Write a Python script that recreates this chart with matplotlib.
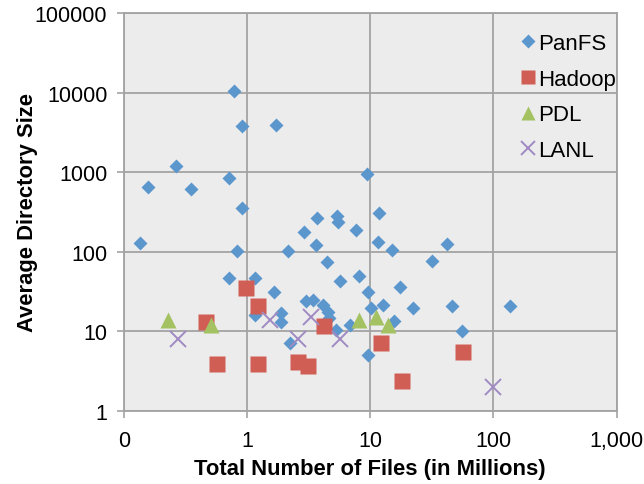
import matplotlib
matplotlib.use("Agg")
import matplotlib.pyplot as plt
from matplotlib.ticker import FixedLocator, FixedFormatter, NullLocator

plt.rcParams['font.family'] = ['Liberation Sans', 'DejaVu Sans']

# Total files (millions) and average directory size per file system site
panfs_files = [0.134, 0.158, 0.266, 0.352, 0.715, 0.785, 0.91, 1.72, 0.91, 0.83,
               0.715, 1.16, 1.65, 2.15, 2.89, 3.62, 3.69, 4.44, 5.35, 5.5,
               7.63, 9.37, 11.7, 11.5, 14.9, 31.5, 42.4, 137, 45.7, 56,
               9.5, 17.3, 22.2, 15.6, 12.6, 10.2, 9.5, 8.1, 5.7, 1.15,
               1.88, 1.88, 3.0, 3.4, 4.1, 4.5, 4.66, 5.3, 6.8, 2.22]
panfs_dirsize = [130, 660, 1210, 620, 850, 10600, 3840, 3900, 358, 103,
                 47, 47, 31, 103, 179, 122, 268, 75, 284, 240,
                 189, 960, 310, 134, 106, 77, 126, 21, 21, 10,
                 5.0, 36, 19.5, 13.7, 21.2, 19.5, 31, 49, 43, 16,
                 16.9, 13.2, 24, 24.8, 21.4, 17.7, 14.6, 10.4, 12.2, 7.1]

hadoop_files = [0.98, 1.23, 0.46, 0.565, 1.23, 2.6, 3.13, 4.23, 12.2, 18.1, 56.4]
hadoop_dirsize = [35.5, 21, 13.2, 3.84, 3.84, 4.07, 3.7, 11.8, 7.1, 2.4, 5.5]

pdl_files = [0.228, 0.505, 8.1, 11.1, 13.9]
pdl_dirsize = [13.9, 12, 13.9, 15, 12]

lanl_files = [0.277, 1.52, 2.6, 3.3, 5.7, 100]
lanl_dirsize = [8.0, 13.9, 8.1, 15.3, 8.1, 2.0]

x_ticks = [0.1, 1, 10, 100, 1000]
x_tick_labels = ["0", "1", "10", "100", "1,000"]
y_ticks = [1, 10, 100, 1000, 10000, 100000]
y_tick_labels = ["1", "10", "100", "1000", "10000", "100000"]

fig = plt.figure(figsize=(6.44, 4.85), dpi=100)
ax = fig.add_axes([124 / 644, 1 - 412 / 485, (616.5 - 124) / 644, (412 - 14) / 485])
ax.set_facecolor('#ececec')

ax.plot(panfs_files, panfs_dirsize, linestyle='none', marker='D', ms=7.6,
        color='#5b96cd', mec='none', label='PanFS')
ax.plot(hadoop_files, hadoop_dirsize, linestyle='none', marker='s', ms=11.5,
        color='#d05e55', mec='none', label='Hadoop')
ax.plot(pdl_files, pdl_dirsize, linestyle='none', marker='^', ms=11.5,
        color='#a4c262', mec='none', label='PDL')
ax.plot(lanl_files, lanl_dirsize, linestyle='none', marker='x', ms=11.5,
        mew=1.4, color='#a08ac2', label='LANL')

ax.set_xscale('log')
ax.set_yscale('log')
ax.set_xlim(0.1, 1000)
ax.set_ylim(1, 100000)

ax.xaxis.set_major_locator(FixedLocator(x_ticks))
ax.xaxis.set_major_formatter(FixedFormatter(x_tick_labels))
ax.xaxis.set_minor_locator(NullLocator())
ax.yaxis.set_major_locator(FixedLocator(y_ticks))
ax.yaxis.set_major_formatter(FixedFormatter(y_tick_labels))
ax.yaxis.set_minor_locator(NullLocator())

grid_color = '#a3a3a3'
ax.grid(True, which='major', color=grid_color, linewidth=1.3)
ax.set_axisbelow(True)
for side in ['left', 'bottom', 'top', 'right']:
    ax.spines[side].set_color(grid_color)
    ax.spines[side].set_linewidth(1.3)

ax.tick_params(axis='both', which='major', direction='out', length=5,
               width=1.2, color=grid_color, labelsize=15.5, labelcolor='black')
ax.tick_params(axis='x', pad=9)
ax.tick_params(axis='y', pad=7)

ax.set_xlabel('Total Number of Files (in Millions)', fontsize=15.8,
              fontweight='bold', labelpad=5)
ax.set_ylabel('Average Directory Size', fontsize=15.8, fontweight='bold',
              labelpad=-2)

leg = ax.legend(loc='upper left', bbox_to_anchor=(0.788, 0.972), frameon=False,
                fontsize=16, handlelength=0.6, handletextpad=0.18,
                labelspacing=0.66, borderaxespad=0.0, markerscale=0.9)

fig.savefig('out.png', dpi=100)
